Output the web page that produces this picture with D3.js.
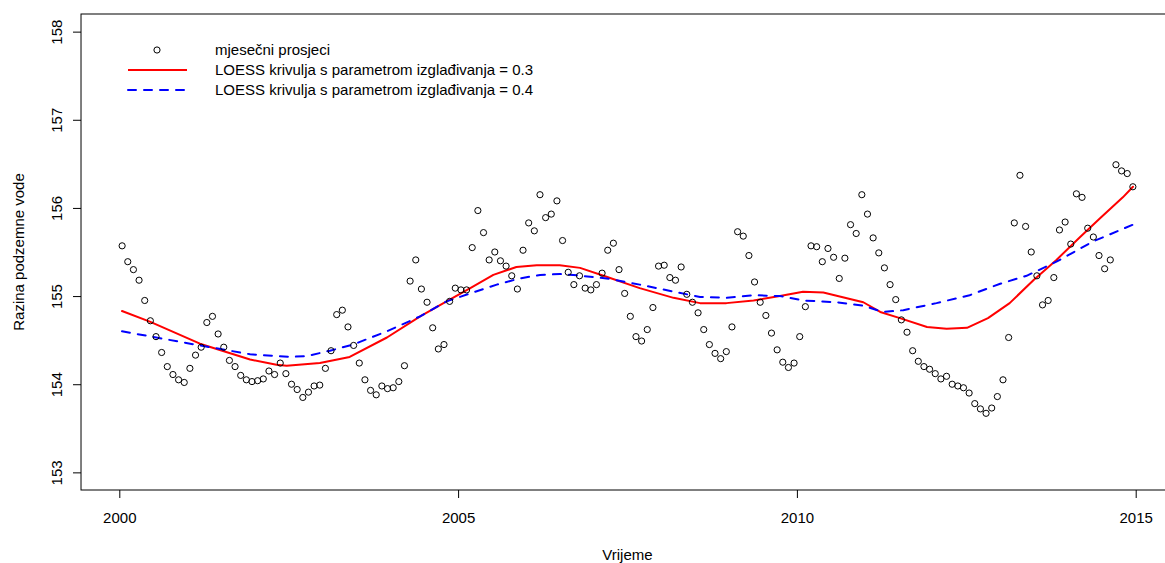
<!DOCTYPE html>
<html><head><meta charset="utf-8">
<script src="https://cdn.jsdelivr.net/npm/d3@7"></script>
<style>body{margin:0;background:#fff}svg text{font-family:"Liberation Sans",Arial,sans-serif;}</style>
</head><body><svg id="c" width="1165" height="563"></svg>
<script>
// monthly averages, Jan 2000 .. Dec 2014
const startYear = 2000;
const monthly = [
 155.57,155.39,155.30,155.18,154.95,154.72,154.54,154.36,154.20,154.11,154.05,154.02,
 154.18,154.33,154.42,154.70,154.77,154.57,154.42,154.27,154.20,154.10,154.05,154.03,
 154.04,154.06,154.15,154.11,154.24,154.12,154.00,153.94,153.85,153.91,153.98,153.99,
 154.18,154.38,154.79,154.84,154.65,154.44,154.24,154.05,153.93,153.88,153.98,153.95,
 153.96,154.03,154.21,155.17,155.41,155.08,154.93,154.64,154.40,154.45,154.94,155.09,
 155.07,155.07,155.55,155.97,155.72,155.41,155.50,155.40,155.34,155.23,155.08,155.52,
 155.83,155.74,156.15,155.89,155.93,156.08,155.63,155.27,155.13,155.23,155.09,155.07,
 155.13,155.26,155.52,155.60,155.30,155.03,154.77,154.54,154.49,154.62,154.87,155.34,
 155.35,155.21,155.18,155.33,155.02,154.93,154.81,154.62,154.45,154.35,154.29,154.37,
 154.65,155.73,155.68,155.46,155.16,154.93,154.78,154.58,154.39,154.25,154.19,154.24,
 154.54,154.88,155.57,155.56,155.39,155.54,155.44,155.20,155.43,155.81,155.71,156.15,
 155.93,155.66,155.49,155.32,155.13,154.96,154.73,154.59,154.38,154.26,154.20,154.17,
 154.12,154.06,154.09,154.00,153.98,153.96,153.90,153.78,153.72,153.67,153.73,153.86,
 154.05,154.53,155.83,156.37,155.79,155.50,155.23,154.90,154.95,155.21,155.75,155.84,
 155.59,156.16,156.12,155.77,155.67,155.46,155.31,155.41,156.49,156.42,156.39,156.24
];
// LOESS span 0.3
const loess03T = [2000.04,2000.45,2001.19,2001.93,2002.32,2002.47,2002.96,2003.40,2003.95,2004.44,2004.83,2005.18,2005.52,2005.86,2006.16,2006.50,2006.80,2007.19,2007.68,2008.18,2008.57,2008.96,2009.36,2009.75,2010.09,2010.39,2010.98,2011.23,2011.52,2011.92,2012.21,2012.51,2012.82,2013.14,2013.49,2013.83,2014.18,2014.47,2014.81,2014.96];
const loess03V = [154.83,154.71,154.46,154.28,154.22,154.21,154.24,154.31,154.53,154.77,154.94,155.09,155.24,155.33,155.35,155.35,155.32,155.22,155.09,154.98,154.92,154.92,154.95,155.00,155.05,155.04,154.93,154.82,154.75,154.65,154.63,154.64,154.75,154.92,155.18,155.41,155.67,155.88,156.12,156.24];
// LOESS span 0.4
const loess04T = [2000.04,2001.19,2001.93,2002.52,2002.77,2003.11,2003.45,2003.95,2004.44,2004.83,2005.18,2005.57,2005.91,2006.21,2006.50,2006.70,2007.19,2007.68,2008.18,2008.57,2008.96,2009.36,2009.75,2010.09,2010.59,2010.98,2011.27,2011.57,2012.06,2012.55,2013.00,2013.39,2013.83,2014.37,2014.96];
const loess04V = [154.60,154.44,154.34,154.31,154.32,154.38,154.45,154.60,154.77,154.94,155.03,155.13,155.20,155.24,155.25,155.24,155.20,155.13,155.05,154.99,154.98,155.01,155.00,154.95,154.93,154.89,154.82,154.84,154.92,155.01,155.14,155.23,155.39,155.62,155.81];
const xTicks = [2000,2005,2010,2015];
const yTicks = [153,154,155,156,157,158];
const legendLabels = ["mjesečni prosjeci","LOESS krivulja s parametrom izglađivanja = 0.3","LOESS krivulja s parametrom izglađivanja = 0.4"];

const svg = d3.select("#c");
const FS = 15;
const x = d3.scaleLinear().domain([2000,2015]).range([119.3,1135.7]);
const y = d3.scaleLinear().domain([152.8,158.2]).range([490,14]);
const L = x(1999.435), R = x(2015.565), T = y(158.2), B = y(152.8);

// frame
svg.append("rect").attr("x",L).attr("y",T).attr("width",R-L).attr("height",B-T)
  .attr("fill","none").attr("stroke","#000").attr("stroke-width",1);

// x axis
const xa = svg.append("g").attr("transform",`translate(0,${B})`)
  .call(d3.axisBottom(x).tickValues(xTicks).tickFormat(d3.format("d")).tickSize(8).tickPadding(14));
xa.select(".domain").remove();
xa.selectAll("text").attr("font-size",FS).attr("fill","#000").attr("font-family","Liberation Sans, Arial, sans-serif");
// y axis
const ya = svg.append("g").attr("transform",`translate(${L},0)`)
  .call(d3.axisLeft(y).tickValues(yTicks).tickFormat(d3.format("d")).tickSize(8).tickPadding(0));
ya.select(".domain").remove();
ya.selectAll("text").attr("font-size",FS).attr("fill","#000").attr("font-family","Liberation Sans, Arial, sans-serif")
  .attr("text-anchor","middle").attr("dy",null).attr("x",null)
  .attr("transform","translate(-19,0) rotate(-90)");

// titles
svg.append("text").attr("x",(L+R)/2).attr("y",560).attr("text-anchor","middle")
  .attr("font-size",FS).text("Vrijeme");
svg.append("text").attr("transform",`translate(24,${(T+B)/2}) rotate(-90)`).attr("text-anchor","middle")
  .attr("font-size",FS).text("Razina podzemne vode");

const g = svg.append("g");
// curves
const line = d3.line().x(d=>x(d[0])).y(d=>y(d[1]));
g.append("path").datum(d3.zip(loess03T,loess03V)).attr("d",line)
  .attr("fill","none").attr("stroke","#ff0000").attr("stroke-width",2).attr("stroke-linejoin","round").attr("stroke-linecap","round");
g.append("path").datum(d3.zip(loess04T,loess04V)).attr("d",line)
  .attr("fill","none").attr("stroke","#0000ff").attr("stroke-width",2).attr("stroke-dasharray","8,8").attr("stroke-linecap","round");
// points
g.selectAll("circle.pt").data(monthly).join("circle").attr("class","pt")
  .attr("cx",(d,i)=>x(startYear+(i+0.5)/12)).attr("cy",d=>y(d)).attr("r",3.1)
  .attr("fill","none").attr("stroke","#000").attr("stroke-width",1);

// legend
const lg = svg.append("g");
const rows = [50,70,90];
lg.append("circle").attr("cx",157).attr("cy",rows[0]).attr("r",3.1).attr("fill","none").attr("stroke","#000");
lg.append("line").attr("x1",128).attr("x2",187).attr("y1",rows[1]).attr("y2",rows[1]).attr("stroke","#ff0000").attr("stroke-width",2);
lg.append("line").attr("x1",128).attr("x2",187).attr("y1",rows[2]).attr("y2",rows[2]).attr("stroke","#0000ff").attr("stroke-width",2).attr("stroke-dasharray","8,8").attr("stroke-linecap","round");
lg.selectAll("text").data(legendLabels).join("text").attr("x",215).attr("y",(d,i)=>rows[i]).attr("dy","0.35em")
  .attr("font-size",FS).text(d=>d);
</script></body></html>
